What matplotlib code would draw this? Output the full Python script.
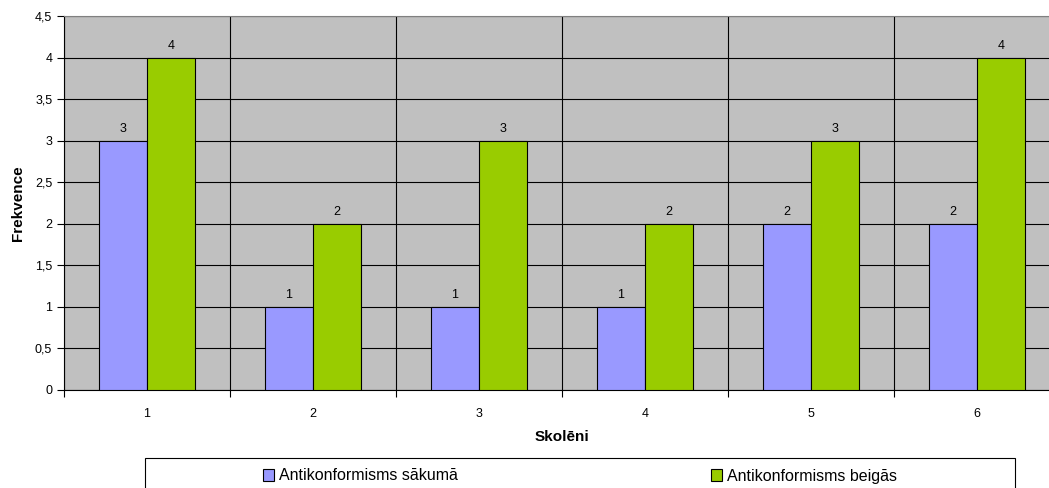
import numpy as np
import matplotlib
matplotlib.use('Agg')
import matplotlib.pyplot as plt
from matplotlib.patches import Rectangle
from matplotlib.ticker import FuncFormatter

plt.rcParams['font.family'] = ['Liberation Sans', 'DejaVu Sans']

skoleni = ['1', '2', '3', '4', '5', '6']
sakuma = [3, 1, 1, 1, 2, 2]
beigas = [4, 2, 3, 2, 3, 4]
y_ticks = [0, 0.5, 1, 1.5, 2, 2.5, 3, 3.5, 4, 4.5]

W, H = 1049, 488
fig = plt.figure(figsize=(W / 100, H / 100), dpi=100)
ax = fig.add_axes([64 / W, 1 - 390 / H, 996 / W, 374 / H])
ax.set_facecolor('#C0C0C0')

x = np.arange(len(skoleni))
w = 0.29
b1 = ax.bar(x - w / 2, sakuma, w, color='#9999FF', edgecolor='black', linewidth=0.8,
            label='Antikonformisms sākumā', zorder=3)
b2 = ax.bar(x + w / 2, beigas, w, color='#99CC00', edgecolor='black', linewidth=0.8,
            label='Antikonformisms beigās', zorder=3)
ax.bar_label(b1, padding=4, fontsize=9)
ax.bar_label(b2, padding=4, fontsize=9)

ax.set_xlim(-0.5, len(skoleni) - 0.5)
ax.set_ylim(0, 4.5)
ax.set_yticks(y_ticks)
ax.yaxis.set_major_formatter(FuncFormatter(lambda v, p: ('%g' % v).replace('.', ',')))
ax.set_xticks(x)
ax.set_xticklabels(skoleni)
ax.set_xticks(np.arange(-0.5, len(skoleni)), minor=True)
ax.tick_params(axis='x', which='major', length=0, pad=13, labelsize=9)
ax.tick_params(axis='x', which='minor', length=5, width=0.8, direction='out')
ax.tick_params(axis='y', length=5, width=0.8, labelsize=9)
ax.grid(axis='y', color='black', linewidth=0.8, zorder=1)
ax.grid(axis='x', which='minor', color='black', linewidth=0.8, zorder=1)
for s in ['top', 'right']:
    ax.spines[s].set_color('#808080')
    ax.spines[s].set_linewidth(0.8)
ax.spines['left'].set_linewidth(0.8)
ax.spines['bottom'].set_linewidth(0.8)

ax.set_xlabel('Skolēni', fontsize=11, fontweight='bold', labelpad=7)
ax.set_ylabel('Frekvence', fontsize=11, fontweight='bold', labelpad=7)

# legend box, running off the bottom edge like the original
fig.add_artist(Rectangle((145 / W, -0.05), 870 / W, 0.05 + 1 - 458.5 / H,
                         transform=fig.transFigure, facecolor='white',
                         edgecolor='black', linewidth=0.8, zorder=0))
y_leg = 1 - 476 / H
for bars, x0 in [(b1, 263), (b2, 711)]:
    fig.legend([bars], [bars.get_label()], loc='center left',
               bbox_to_anchor=(x0 / W, y_leg), frameon=False, fontsize=11.5,
               handlelength=0.7, handleheight=0.7, handletextpad=0.3,
               borderpad=0, borderaxespad=0)

fig.savefig('out.png', dpi=100)
